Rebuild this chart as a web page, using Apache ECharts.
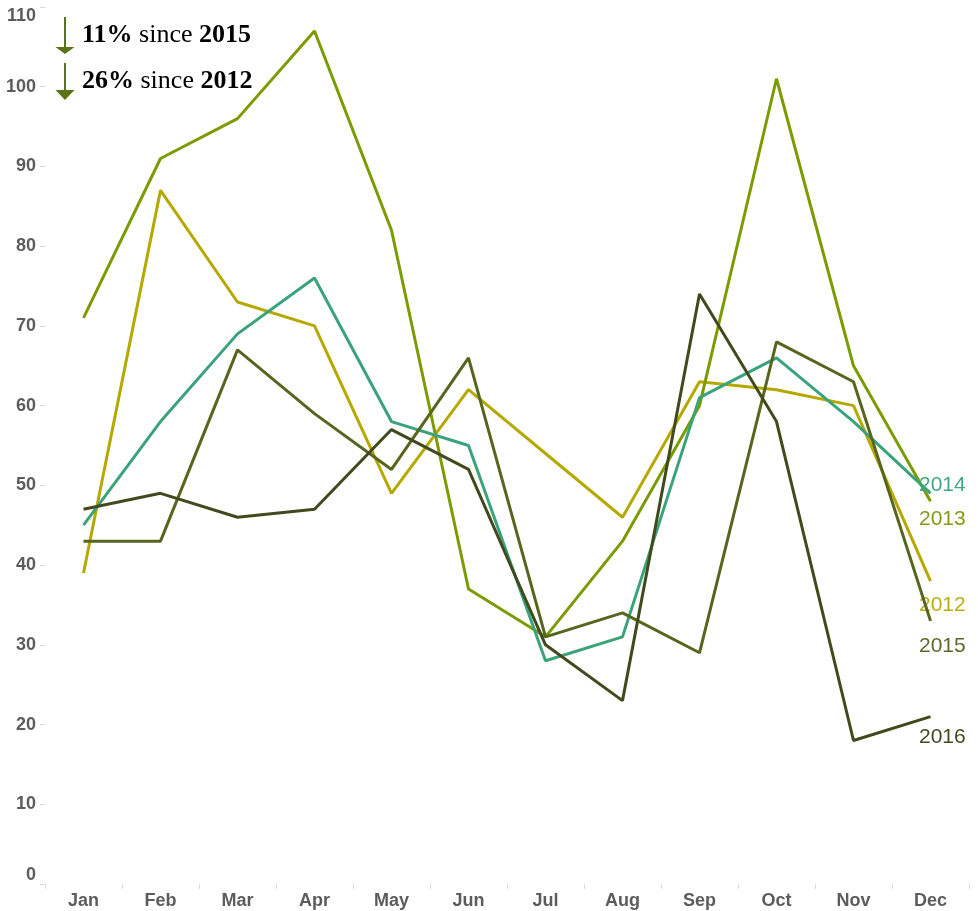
<!DOCTYPE html>
<html>
<head>
<meta charset="utf-8">
<title>Monthly totals by year</title>
<script src="https://cdn.jsdelivr.net/npm/echarts@6/dist/echarts.min.js"></script>
<style>
  html, body { margin: 0; padding: 0; background: #ffffff; }
  #chart { width: 978px; height: 911px; }
</style>
</head>
<body>
<div id="chart"></div>
<script>
// Categories and values
const months = ['Jan', 'Feb', 'Mar', 'Apr', 'May', 'Jun', 'Jul', 'Aug', 'Sep', 'Oct', 'Nov', 'Dec'];
const years = ['2012', '2013', '2014', '2015', '2016'];
const values2012 = [39, 87, 73, 70, 49, 62, 54, 46, 63, 62, 60, 38];
const values2013 = [71, 91, 96, 107, 82, 37, 31, 43, 60, 101, 65, 48];
const values2014 = [45, 58, 69, 76, 58, 55, 28, 31, 61, 66, 58, 49];
const values2015 = [43, 43, 67, 59, 52, 66, 31, 34, 29, 68, 63, 33];
const values2016 = [47, 49, 46, 47, 57, 52, 30, 23, 74, 58, 18, 21];
const yTicks = { min: 0, max: 110, step: 10 };

// Headline changes
const changes = [
  { pct: '11%', since: '2015' },
  { pct: '26%', since: '2012' }
];

const seriesValues = [values2012, values2013, values2014, values2015, values2016];
const lineColors = ['#b5a900', '#7a9c00', '#3aa37a', '#56661f', '#414a1c'];
const labelColors = ['#bbae12', '#7d9e16', '#42a882', '#5b6a2b', '#434b23'];
// vertical nudge of each year label so they do not collide at the right edge
const labelShift = [24, 18, -8, 25, 21];

const chart = echarts.init(document.getElementById('chart'), null, { renderer: 'canvas' });

const series = years.map((year, i) => {
  const vals = seriesValues[i];
  return {
    name: year,
    type: 'line',
    data: vals,
    symbol: 'none',
    lineStyle: { width: 3, color: lineColors[i] },
    itemStyle: { color: lineColors[i] },
    z: 2 + i,
    markPoint: {
      silent: true,
      symbol: 'circle',
      symbolSize: 0,
      itemStyle: { color: 'transparent' },
      data: [{ coord: [months[months.length - 1], vals[vals.length - 1]] }],
      label: {
        show: true,
        position: 'right',
        distance: 0,
        offset: [-11.5, labelShift[i]],
        formatter: year,
        color: labelColors[i],
        fontFamily: 'Liberation Sans, Arial, sans-serif',
        fontSize: 21
      }
    }
  };
});

// Arrow + text annotations in the top-left corner
const arrowColor = '#5a7317';
const serif = '"Liberation Serif", "Times New Roman", serif';
const annotationRows = [
  { shaftTop: 17, headTop: 47, headBottom: 54, textY: 35 },
  { shaftTop: 63, headTop: 90, headBottom: 100, textY: 81 }
];
const graphics = [];
annotationRows.forEach((row, i) => {
  graphics.push({
    type: 'line',
    shape: { x1: 65, y1: row.shaftTop, x2: 65, y2: row.headTop + 1 },
    style: { stroke: arrowColor, lineWidth: 2 }
  });
  graphics.push({
    type: 'polygon',
    shape: { points: [[55.5, row.headTop], [74.5, row.headTop], [65, row.headBottom]] },
    style: { fill: arrowColor }
  });
  graphics.push({
    type: 'text',
    x: 82,
    y: row.textY,
    style: {
      text: '{b|' + changes[i].pct + ' }{r|since }{b|' + changes[i].since + '}',
      verticalAlign: 'middle',
      rich: {
        b: { fontFamily: serif, fontWeight: 'bold', fontSize: 26, fill: '#000000' },
        r: { fontFamily: serif, fontWeight: 'normal', fontSize: 26, fill: '#000000' }
      }
    }
  });
});

const axisFont = {
  color: '#5c5c5c',
  fontFamily: 'Liberation Sans, Arial, sans-serif',
  fontWeight: 'bold',
  fontSize: 18
};

chart.setOption({
  animation: false,
  backgroundColor: '#ffffff',
  grid: { left: 45, right: 9, top: 7, bottom: 27, containLabel: false },
  xAxis: {
    type: 'category',
    data: months,
    boundaryGap: true,
    axisLine: { show: false },
    axisTick: { show: true, length: 5, lineStyle: { color: '#d9d9d9', width: 1 } },
    axisLabel: Object.assign({ margin: 8, interval: 0 }, axisFont),
    splitLine: { show: false }
  },
  yAxis: {
    type: 'value',
    min: yTicks.min,
    max: yTicks.max,
    interval: yTicks.step,
    axisLine: { show: false },
    axisTick: { show: true, length: 5, lineStyle: { color: '#d9d9d9', width: 1 } },
    axisLabel: Object.assign({
      margin: 9,
      verticalAlignMinLabel: 'bottom',
      verticalAlignMaxLabel: 'top'
    }, axisFont),
    splitLine: { show: false }
  },
  series: series,
  graphic: graphics
});
</script>
</body>
</html>
